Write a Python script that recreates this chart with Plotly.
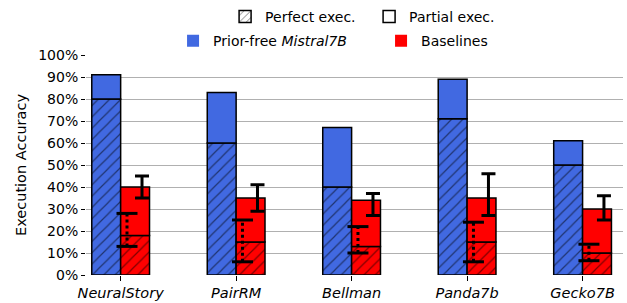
import plotly.graph_objects as go

categories = ["NeuralStory", "PairRM", "Bellman", "Panda7b", "Gecko7B"]
mistral_perfect = [80, 60, 40, 71, 50]
mistral_total = [91, 83, 67, 89, 61]
base_perfect = [18, 15, 13, 15, 10]
base_total = [40, 35, 34, 35, 30]
base_total_err_low = [35, 29, 27, 27, 25]
base_total_err_high = [45, 41, 37, 46, 36]
base_perfect_err_low = [13, 6, 10, 6, 6.5]
base_perfect_err_high = [28, 25, 22, 24, 14]
y_ticks = [0, 10, 20, 30, 40, 50, 60, 70, 80, 90, 100]

BLUE = "#4169E1"
RED = "#FF0000"
FONT = "DejaVu Sans"
W = 0.25

idx = list(range(len(categories)))
xb = [i - W / 2 for i in idx]
xr = [i + W / 2 for i in idx]
x_top_err = [i + W / 2 + 0.06 for i in idx]
x_low_err = [i + W / 2 - 0.07 for i in idx]

fig = go.Figure()

def hatched(x, y, color):
    return go.Bar(
        x=x, y=y, base=[0] * len(y), width=W,
        marker=dict(color=color, line=dict(color="black", width=1.5),
                    pattern=dict(shape="/", fgcolor="black", bgcolor=color,
                                 size=8, solidity=0.15)),
        showlegend=False, hoverinfo="skip")

def solid(x, base, total, color):
    return go.Bar(
        x=x, y=[t - b for t, b in zip(total, base)], base=base, width=W,
        marker=dict(color=color, line=dict(color="black", width=1.5)),
        showlegend=False, hoverinfo="skip")

fig.add_trace(hatched(xb, mistral_perfect, BLUE))
fig.add_trace(solid(xb, mistral_perfect, mistral_total, BLUE))
fig.add_trace(hatched(xr, base_perfect, RED))
fig.add_trace(solid(xr, base_perfect, base_total, RED))

# error bars for total baseline
fig.add_trace(go.Scatter(
    x=x_top_err, y=base_total_err_low, mode="markers",
    marker=dict(color="rgba(0,0,0,0)", size=1),
    error_y=dict(type="data", array=[h - l for h, l in zip(base_total_err_high, base_total_err_low)],
                 arrayminus=[0] * len(idx), color="black", thickness=3, width=7),
    showlegend=False, hoverinfo="skip"))

# dotted error bars for perfect baseline
vx, vy = [], []
for x, lo, hi in zip(x_low_err, base_perfect_err_low, base_perfect_err_high):
    vx += [x, x, None]
    vy += [lo, hi, None]
fig.add_trace(go.Scatter(x=vx, y=vy, mode="lines",
                         line=dict(color="black", width=3, dash="dot"),
                         showlegend=False, hoverinfo="skip"))
fig.add_trace(go.Scatter(
    x=x_low_err + x_low_err, y=base_perfect_err_low + base_perfect_err_high,
    mode="markers",
    marker=dict(symbol="line-ew", size=15, line=dict(color="black", width=3)),
    showlegend=False, hoverinfo="skip"))

# legend entries
fig.add_trace(go.Bar(x=[None], y=[None], name="Perfect exec.", legend="legend",
                     marker=dict(color="white", line=dict(color="black", width=1.5),
                                 pattern=dict(shape="/", fgcolor="black", bgcolor="white",
                                              size=6, solidity=0.2))))
fig.add_trace(go.Bar(x=[None], y=[None], name="Partial exec.", legend="legend",
                     marker=dict(color="white", line=dict(color="black", width=1.5))))
fig.add_trace(go.Bar(x=[None], y=[None], name="Prior-free <i>Mistral7B</i>", legend="legend2",
                     marker=dict(color=BLUE, line=dict(width=0))))
fig.add_trace(go.Bar(x=[None], y=[None], name="Baselines", legend="legend2",
                     marker=dict(color=RED, line=dict(width=0))))

fig.update_layout(
    width=627, height=303,
    margin=dict(l=86, r=4, t=55, b=28, autoexpand=False),
    plot_bgcolor="white", paper_bgcolor="white",
    barmode="overlay",
    font=dict(family=FONT, size=14, color="black"),
    legend=dict(orientation="h", xref="container", yref="container",
                x=0.359, y=0.997, xanchor="left", yanchor="top",
                font=dict(size=14), bgcolor="rgba(0,0,0,0)", entrywidth=99),
    legend2=dict(orientation="h", xref="container", yref="container",
                 x=0.276, y=0.917, xanchor="left", yanchor="top",
                 font=dict(size=14), bgcolor="rgba(0,0,0,0)", entrywidth=163),
)
fig.update_xaxes(range=[-0.3, 4.35], tickvals=idx,
                 ticktext=[f"<i>{c}</i>" for c in categories],
                 ticks="outside", ticklen=5, tickcolor="black",
                 showgrid=False, zeroline=False, showline=False,
                 tickfont=dict(size=14.5), automargin=False)
fig.update_yaxes(range=[0, 100], tickvals=y_ticks,
                 ticktext=[f"{v}%" for v in y_ticks],
                 ticks="outside", ticklen=4, tickcolor="black",
                 showgrid=True, gridcolor="#b0b0b0", gridwidth=1,
                 zeroline=False, showline=False, automargin=False,
                 tickfont=dict(size=14),
                 title=dict(text="Execution Accuracy", font=dict(size=14.5), standoff=8))

fig.write_html("out.html", config={"displayModeBar": False},
               post_script="document.body.style.margin='0';")
